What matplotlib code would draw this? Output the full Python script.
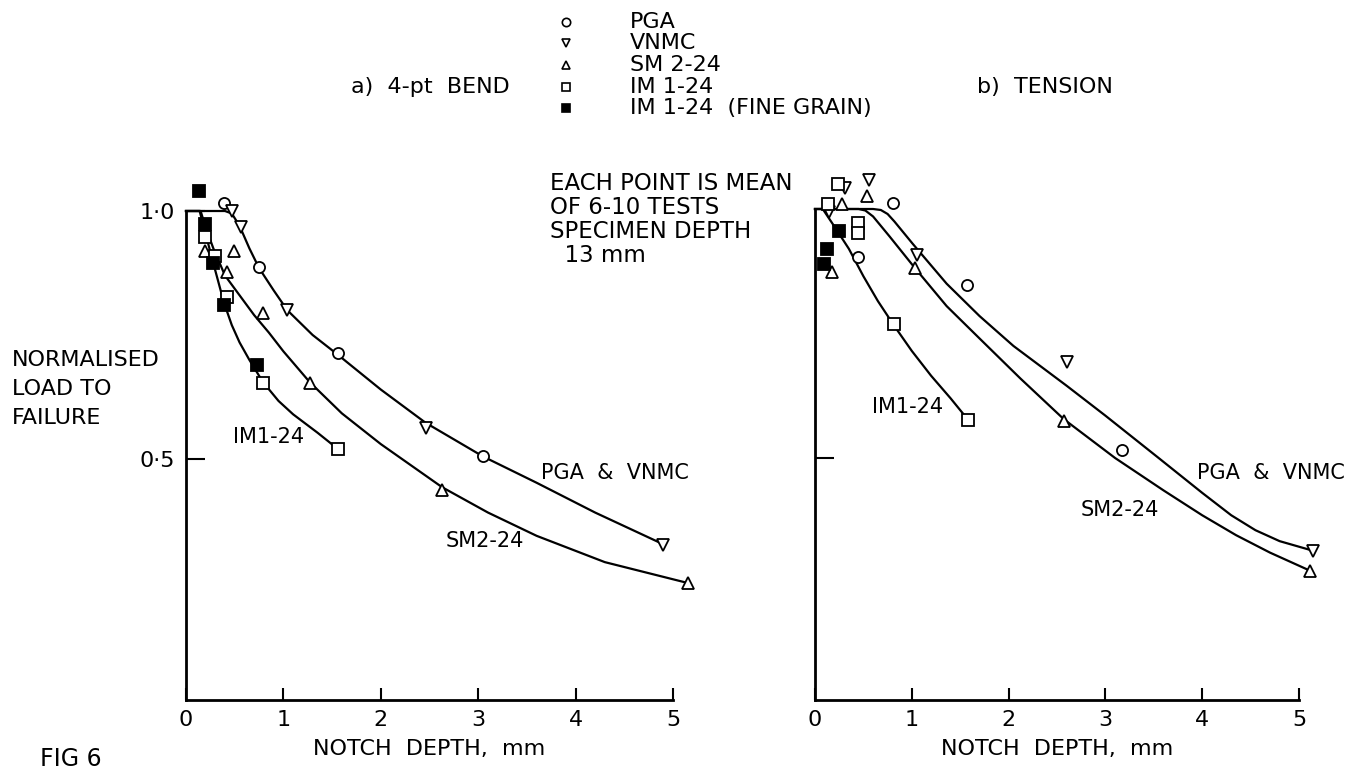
import numpy as np
import matplotlib
matplotlib.use("Agg")
import matplotlib.pyplot as plt

plt.rcParams['font.family'] = ['DejaVu Sans']

# ---- a) 4-pt bend: measured points (notch depth mm, normalised load)
bend_pga_x = [0.39, 0.75, 1.56, 3.05]
bend_pga_y = [1.016, 0.887, 0.713, 0.505]
bend_vnmc_x = [0.47, 0.56, 1.04, 2.46, 4.90]
bend_vnmc_y = [1.00, 0.968, 0.80, 0.563, 0.326]
bend_sm_x = [0.20, 0.42, 0.49, 0.79, 1.27, 2.63, 5.15]
bend_sm_y = [0.92, 0.877, 0.92, 0.795, 0.654, 0.437, 0.25]
bend_im_x = [0.20, 0.30, 0.42, 0.79, 1.56]
bend_im_y = [0.948, 0.91, 0.827, 0.654, 0.52]
bend_imf_x = [0.13, 0.20, 0.28, 0.39, 0.73]
bend_imf_y = [1.04, 0.974, 0.895, 0.81, 0.69]

# fitted curves
bend_fit_pga_x = [0, 0.40, 0.47, 0.55, 0.65, 0.75, 0.90, 1.04, 1.30, 1.56, 2.00, 2.46, 3.05, 3.60, 4.20, 4.90]
bend_fit_pga_y = [1.0, 1.0, 0.995, 0.97, 0.925, 0.885, 0.84, 0.80, 0.75, 0.71, 0.64, 0.573, 0.505, 0.452, 0.392, 0.328]
bend_fit_sm_x = [0, 0.15, 0.20, 0.28, 0.40, 0.55, 0.70, 0.85, 1.00, 1.27, 1.60, 2.00, 2.63, 3.10, 3.60, 4.30, 5.15]
bend_fit_sm_y = [1.0, 1.0, 0.968, 0.925, 0.87, 0.83, 0.79, 0.755, 0.717, 0.655, 0.592, 0.53, 0.443, 0.392, 0.345, 0.292, 0.25]
bend_fit_im_x = [0, 0.14, 0.20, 0.28, 0.39, 0.47, 0.55, 0.65, 0.79, 0.95, 1.10, 1.35, 1.56]
bend_fit_im_y = [1.0, 1.0, 0.955, 0.895, 0.815, 0.77, 0.735, 0.70, 0.655, 0.617, 0.59, 0.553, 0.52]

# ---- b) tension: measured points
ten_pga_x = [0.81, 0.44, 1.57, 3.17]
ten_pga_y = [1.012, 0.904, 0.848, 0.516]
ten_vnmc_x = [0.14, 0.31, 0.56, 1.05, 2.60, 5.14]
ten_vnmc_y = [0.994, 1.042, 1.058, 0.908, 0.692, 0.314]
ten_sm_x = [0.28, 0.54, 0.18, 1.03, 2.57, 5.11]
ten_sm_y = [1.01, 1.026, 0.874, 0.882, 0.574, 0.274]
ten_im_x = [0.13, 0.24, 0.44, 0.44, 0.82, 1.58]
ten_im_y = [1.01, 1.05, 0.972, 0.952, 0.77, 0.577]
ten_imf_x = [0.25, 0.12, 0.09]
ten_imf_y = [0.956, 0.92, 0.89]

ten_fit_pga_x = [0, 0.60, 0.68, 0.75, 0.82, 1.01, 1.36, 1.70, 2.05, 2.60, 3.00, 3.55, 4.00, 4.30, 4.55, 4.80, 5.14]
ten_fit_pga_y = [1.0, 1.0, 0.998, 0.99, 0.975, 0.93, 0.85, 0.785, 0.725, 0.645, 0.585, 0.50, 0.43, 0.385, 0.355, 0.333, 0.314]
ten_fit_sm_x = [0, 0.45, 0.52, 0.60, 0.77, 1.03, 1.36, 1.70, 2.12, 2.57, 3.10, 3.60, 4.00, 4.35, 4.70, 5.11]
ten_fit_sm_y = [1.0, 1.0, 0.997, 0.985, 0.945, 0.882, 0.805, 0.74, 0.66, 0.578, 0.50, 0.435, 0.385, 0.345, 0.31, 0.274]
ten_fit_im_x = [0, 0.08, 0.20, 0.35, 0.50, 0.65, 0.82, 1.00, 1.20, 1.40, 1.58]
ten_fit_im_y = [1.0, 1.0, 0.965, 0.92, 0.865, 0.815, 0.765, 0.715, 0.665, 0.62, 0.577]

legend_labels = ["PGA", "VNMC", "SM 2-24", "IM 1-24", "IM 1-24  (FINE GRAIN)"]
note_lines = ["EACH POINT IS MEAN", "OF 6-10 TESTS", "SPECIMEN DEPTH", "  13 mm"]

W, H = 1365, 770
fig = plt.figure(figsize=(W / 100, H / 100), dpi=100)

FS_TICK = 16
FS_LAB = 15
mk = dict(linestyle='none', markersize=8, markeredgewidth=1.3, markeredgecolor='black',
          clip_on=False)


def px_axes(x0, x1, y_top, y_bot):
    return fig.add_axes([x0 / W, 1 - y_bot / H, (x1 - x0) / W, (y_bot - y_top) / H])


def setup(ax):
    ax.set_xlim(0, 5)
    ax.set_ylim(0.014, 1.0)
    for s in ['top', 'right']:
        ax.spines[s].set_visible(False)
    for s in ['left', 'bottom']:
        ax.spines[s].set_linewidth(2)
    ax.set_xticks([0, 1, 2, 3, 4, 5])
    ax.set_xticklabels(['0', '1', '2', '3', '4', '5'], fontsize=FS_TICK)
    ax.tick_params(axis='x', direction='in', length=9, width=1.5, pad=7)
    ax.tick_params(axis='y', direction='in', length=14, width=1.5, pad=8)
    ax.set_xlabel('NOTCH  DEPTH,  mm', fontsize=16, labelpad=7)
    ax.patch.set_alpha(0)


def draw(ax, pts, fits):
    for x, y in fits:
        ax.plot(x, y, color='black', lw=1.6, clip_on=False)
    (px_, py_), (vx, vy), (sx, sy), (ix, iy), (fx, fy) = pts
    ax.plot(px_, py_, marker='o', markerfacecolor='white', **mk)
    ax.plot(vx, vy, marker='v', markerfacecolor='white', **mk)
    ax.plot(sx, sy, marker='^', markerfacecolor='white', **mk)
    ax.plot(ix, iy, marker='s', markerfacecolor='white', **mk)
    ax.plot(fx, fy, marker='s', markerfacecolor='black', **mk)


ax1 = px_axes(186, 673, 211, 700)
setup(ax1)
ax1.set_yticks([0.5, 1.0])
ax1.set_yticklabels(['0·5', '1·0'], fontsize=FS_TICK)
draw(ax1,
     [(bend_pga_x, bend_pga_y), (bend_vnmc_x, bend_vnmc_y), (bend_sm_x, bend_sm_y),
      (bend_im_x, bend_im_y), (bend_imf_x, bend_imf_y)],
     [(bend_fit_pga_x, bend_fit_pga_y), (bend_fit_sm_x, bend_fit_sm_y), (bend_fit_im_x, bend_fit_im_y)])
ax1.text(0.85, 0.545, 'IM1-24', fontsize=FS_LAB, ha='center', va='center')
ax1.text(4.40, 0.471, 'PGA  &  VNMC', fontsize=FS_LAB, ha='center', va='center')
ax1.text(3.07, 0.334, 'SM2-24', fontsize=FS_LAB, ha='center', va='center')

ax2 = px_axes(815, 1299, 209, 700)
setup(ax2)
ax2.set_yticks([0.5])
ax2.set_yticklabels([])
draw(ax2,
     [(ten_pga_x, ten_pga_y), (ten_vnmc_x, ten_vnmc_y), (ten_sm_x, ten_sm_y),
      (ten_im_x, ten_im_y), (ten_imf_x, ten_imf_y)],
     [(ten_fit_pga_x, ten_fit_pga_y), (ten_fit_sm_x, ten_fit_sm_y), (ten_fit_im_x, ten_fit_im_y)])
ax2.text(0.96, 0.602, 'IM1-24', fontsize=FS_LAB, ha='center', va='center')
ax2.text(3.95, 0.47, 'PGA  &  VNMC', fontsize=FS_LAB, ha='left', va='center')
ax2.text(3.15, 0.396, 'SM2-24', fontsize=FS_LAB, ha='center', va='center')

# overlay in pixel coordinates for legend and loose text
ov = fig.add_axes([0, 0, 1, 1])
ov.set_xlim(0, W)
ov.set_ylim(H, 0)
ov.axis('off')
ov.patch.set_alpha(0)

leg_y = [22, 43, 65, 87, 108]
leg_marker = ['o', 'v', '^', 's', 's']
leg_face = ['white', 'white', 'white', 'white', 'black']
for y, m, f, lab in zip(leg_y, leg_marker, leg_face, legend_labels):
    ov.plot([566], [y], marker=m, markersize=6, markerfacecolor=f,
            markeredgecolor='black', markeredgewidth=1.2, linestyle='none')
    ov.text(630, y, lab, fontsize=16, va='center', ha='left')

for i, line in enumerate(note_lines):
    ov.text(550, 183 + i * 24, line, fontsize=16.5, va='center', ha='left')

ov.text(510, 87, 'a)  4-pt  BEND', fontsize=16, va='center', ha='right')
ov.text(1045, 87, 'b)  TENSION', fontsize=16, va='center', ha='center')

for i, line in enumerate(['NORMALISED', 'LOAD TO', 'FAILURE']):
    ov.text(12, 360 + i * 29, line, fontsize=16, va='center', ha='left')

ov.text(40, 771, 'FIG 6', fontsize=17, va='bottom', ha='left')

fig.savefig('out.png', dpi=100)
